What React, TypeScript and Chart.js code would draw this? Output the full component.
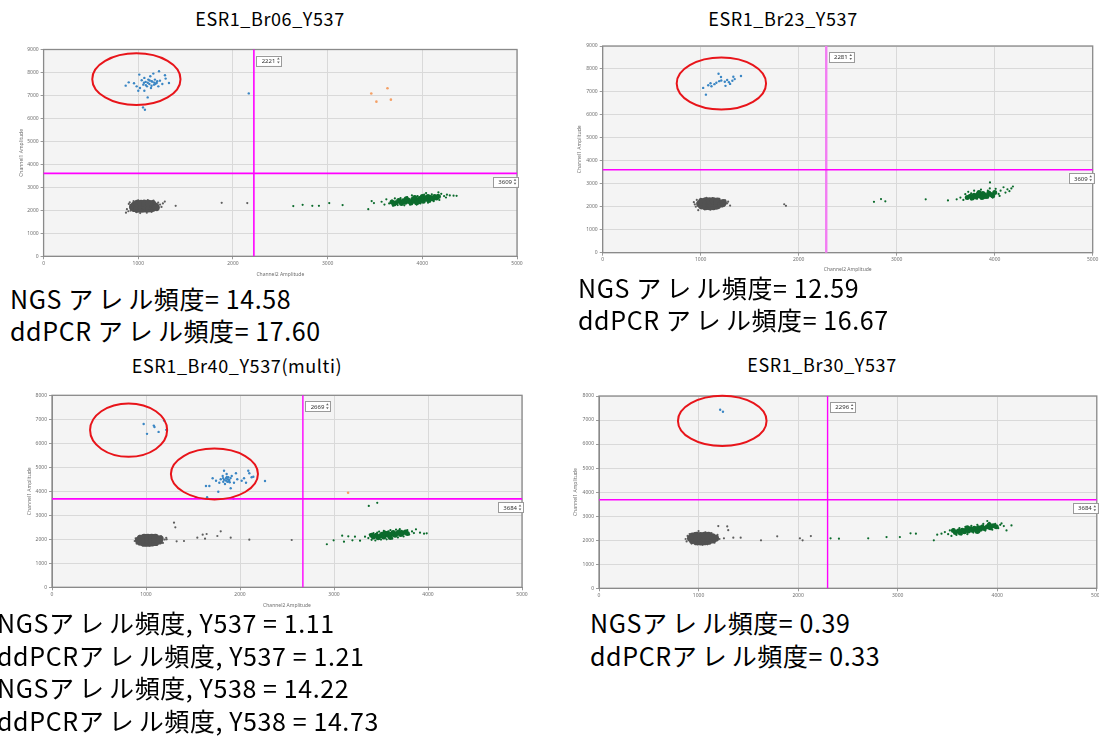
import React, { useEffect, useRef } from "react";
import { Chart, registerables } from "chart.js";

Chart.register(...registerables);

type P = [number, number];

// ---------- tick labels ----------
const xTickValues = [0, 1000, 2000, 3000, 4000, 5000];
const yTickValuesTop = [0, 1000, 2000, 3000, 4000, 5000, 6000, 7000, 8000, 9000];
const yTickValuesBottom = [0, 1000, 2000, 3000, 4000, 5000, 6000, 7000, 8000];

// ---------- panel 1 : ESR1_Br06_Y537 ----------
const p1Title = "ESR1_Br06_Y537";
const p1ThreshX = 2221;
const p1ThreshY = 3609;
const p1Circles: [number, number, number, number][] = [[980, 7710, 466, 1124]];
const p1Text = ["NGS アレル頻度= 14.58", "ddPCR アレル頻度= 17.60"];
const p1Blue: P[] = [
  [867, 7427], [899, 7571], [955, 7528], [983, 7397], [1011, 7907], [1018, 7326], [1036, 7659], [1053, 7470],
  [1064, 7763], [1078, 7589], [1092, 7397], [1106, 7689], [1117, 7500], [1127, 7834], [1134, 7326], [1141, 7615],
  [1159, 7951], [1166, 7470], [1176, 7689], [1194, 7543], [1212, 7397], [1219, 8052], [1229, 7645], [1254, 7500],
  [1282, 7878], [1289, 7733], [1324, 7543], [1099, 6916], [1000, 7208], [1064, 7208], [1150, 7600], [1100, 7550],
  [1120, 7650], [1080, 7450], [1180, 7500], [1200, 7620], [1060, 7550], [1140, 7420], [1170, 7560], [1050, 6480],
  [1070, 6380], [2167, 7090],
];
const p1Orange: P[] = [[3461, 7088], [3515, 6730], [3632, 7316], [3668, 6817]];
const p1GrayCore: P[] = [
  [940, 2150], [960, 2080], [960, 2230], [990, 2050], [990, 2180], [990, 2300], [1030, 2050], [1030, 2170],
  [1030, 2300], [1070, 2060], [1070, 2180], [1070, 2300], [1110, 2060], [1110, 2180], [1110, 2300], [1150, 2090],
  [1150, 2200], [1150, 2290], [1180, 2180], [1190, 2120],
];
const p1Gray: P[] = [
  [880, 2050], [895, 1960], [900, 2280], [910, 2350], [920, 1990], [950, 2400], [980, 1920], [1000, 2440],
  [1020, 1880], [1050, 1950], [1060, 2420], [1090, 1900], [1100, 2450], [1140, 1930], [1160, 2420], [1200, 2010],
  [1210, 2340], [1230, 2250], [1245, 2150], [1260, 2300], [1280, 2380], [870, 1900], [1395, 2197], [1881, 2328],
  [2151, 2315],
];
const p1GreenCore: P[] = [
  [3720, 2330], [3760, 2380], [3780, 2300], [3800, 2420], [3820, 2350], [3850, 2450], [3860, 2380], [3880, 2320],
  [3900, 2480], [3910, 2400], [3940, 2440], [3960, 2370], [3970, 2520], [3990, 2460], [4010, 2400], [4030, 2550],
  [4050, 2480], [4070, 2430], [4090, 2560], [4110, 2510], [4130, 2600], [4150, 2540], [3830, 2500], [3750, 2430],
  [3920, 2560], [4000, 2600], [3680, 2360], [3700, 2280], [3940, 2330], [4060, 2600], [4170, 2600],
];
const p1Green: P[] = [
  [2637, 2184], [2736, 2241], [2838, 2197], [2908, 2197], [3017, 2315], [3158, 2228], [3429, 2053], [3465, 2402],
  [3489, 2315], [3570, 2373], [3600, 2250], [3620, 2480], [3650, 2300], [3680, 2420], [3690, 2200], [3710, 2520],
  [3740, 2230], [3770, 2530], [3810, 2220], [3840, 2580], [3870, 2250], [3950, 2620], [3980, 2300], [4020, 2680],
  [4060, 2330], [4100, 2700], [4160, 2660], [4180, 2450], [4200, 2720], [4230, 2620], [4260, 2680], [4290, 2650],
  [4330, 2640], [4362, 2634], [4170, 2780], [4040, 2750], [3890, 2650], [3940, 2250], [4120, 2400], [4250, 2560],
];

// ---------- panel 2 : ESR1_Br23_Y537 ----------
const p2Title = "ESR1_Br23_Y537";
const p2ThreshX = 2281;
const p2ThreshY = 3609;
const p2Circles: [number, number, number, number][] = [[1211, 7368, 456, 1132]];
const p2Text = ["NGS アレル頻度= 12.59", "ddPCR アレル頻度= 16.67"];
const p2Blue: P[] = [
  [1025, 7176], [1053, 6882], [1077, 7294], [1140, 7338], [1182, 7794], [1189, 7470], [1207, 7647], [1246, 7441],
  [1253, 7265], [1288, 7426], [1323, 7485], [1333, 7662], [1347, 7559], [1411, 7691], [1110, 7250], [1160, 7400],
  [1210, 7500], [1300, 7350], [1100, 7380], [1270, 7520],
];
const p2Orange: P[] = [];
const p2GrayCore: P[] = [
  [990, 2130], [1010, 2040], [1010, 2220], [1050, 2000], [1050, 2130], [1050, 2260], [1090, 2000], [1090, 2130],
  [1090, 2260], [1130, 2010], [1130, 2140], [1130, 2260], [1170, 2040], [1170, 2160], [1170, 2250], [1210, 2120],
  [1230, 2180],
];
const p2Gray: P[] = [
  [940, 2100], [950, 2000], [960, 2300], [975, 1850], [1000, 2350], [1040, 1890], [1060, 2390], [1100, 1870],
  [1120, 2380], [1160, 1920], [1190, 2350], [1240, 2040], [1250, 2280], [1270, 2150], [1280, 2220], [1300, 2050],
  [930, 2200], [1852, 2110], [1870, 2040],
];
const p2GreenCore: P[] = [
  [3720, 2400], [3750, 2460], [3770, 2380], [3790, 2500], [3810, 2430], [3830, 2550], [3850, 2470], [3870, 2400],
  [3880, 2580], [3900, 2510], [3920, 2450], [3940, 2600], [3960, 2530], [3980, 2480], [4000, 2620], [3840, 2620],
];
const p2Green: P[] = [
  [2768, 2217], [2840, 2335], [2884, 2235], [3296, 2322], [3523, 2278], [3612, 2322], [3650, 2400], [3680, 2300],
  [3700, 2550], [3730, 2650], [3760, 2320], [3790, 2700], [3820, 2350], [3860, 2750], [3900, 2380], [3930, 2700],
  [3952, 3061], [3980, 2400], [4010, 2780], [4040, 2560], [4060, 2700], [4090, 2850], [4110, 2620], [4130, 2760],
  [4150, 2680], [4186, 2882], [4170, 2800], [4050, 2470], [3760, 2580], [3950, 2800],
];

// ---------- panel 3 : ESR1_Br40_Y537(multi) ----------
const p3Title = "ESR1_Br40_Y537(multi)";
const p3ThreshX = 2669;
const p3ThreshY = 3684;
const p3Circles: [number, number, number, number][] = [[815, 6550, 410, 1111], [1728, 4720, 463, 1060]];
const p3Text = [
  "NGSアレル頻度, Y537 = 1.11",
  "ddPCRアレル頻度, Y537 = 1.21",
  "NGSアレル頻度, Y538 = 14.22",
  "ddPCRアレル頻度, Y538 = 14.73",
];
const p3Blue: P[] = [
  [975, 6807], [1011, 6393], [1083, 6738], [1090, 6680], [1134, 6476], [1192, 6945], [1215, 6560],
  [1638, 4221], [1674, 4221], [1709, 4542], [1745, 4442], [1769, 3983], [1780, 4358], [1795, 4500], [1816, 4638],
  [1822, 4400], [1830, 4858], [1840, 4304], [1851, 4542], [1858, 4721], [1865, 4400], [1876, 4583], [1886, 4471],
  [1901, 4125], [1912, 4638], [1936, 4358], [1957, 4750], [1971, 4500], [2018, 4442], [2043, 4542], [2064, 4358],
  [2088, 4858], [2099, 4750], [2124, 4583], [2142, 4608], [2266, 4429], [1850, 4450], [1870, 4500], [1830, 4480],
  [1880, 4420], [1900, 4550], [1860, 4600], [1820, 4550], [1890, 4380], [1530, 3730], [1650, 3750], [1930, 3700],
];
const p3Orange: P[] = [[3150, 3940]];
const p3GrayCore: P[] = [
  [920, 1960], [940, 1880], [940, 2040], [980, 1840], [980, 1960], [980, 2080], [1020, 1840], [1020, 1960],
  [1020, 2080], [1060, 1850], [1060, 1970], [1060, 2080], [1100, 1870], [1100, 1990], [1100, 2080], [1140, 1930],
  [1150, 2020],
];
const p3Gray: P[] = [
  [880, 1930], [890, 2040], [900, 1820], [930, 2140], [960, 1760], [1000, 2160], [1040, 1740], [1080, 2170],
  [1120, 1780], [1160, 2120], [1180, 1850], [1200, 1990], [1215, 2060], [1298, 2692], [1312, 2500], [1220, 2000],
  [1326, 1917], [1404, 1929], [1546, 2067], [1603, 2192], [1645, 2221], [1628, 2025], [1759, 2138], [1795, 2333],
  [1901, 2067], [2099, 1983], [2550, 1971],
];
const p3GreenCore: P[] = [
  [3420, 2100], [3450, 2170], [3470, 2060], [3490, 2140], [3510, 2210], [3530, 2100], [3550, 2180], [3570, 2250],
  [3590, 2140], [3610, 2210], [3630, 2280], [3650, 2170], [3670, 2240], [3690, 2300], [3710, 2200], [3730, 2260],
  [3760, 2300], [3540, 2260], [3600, 2080], [3400, 2170], [3780, 2240],
];
const p3Green: P[] = [
  [2924, 1793], [2996, 1959], [3087, 2152], [3106, 1900], [3152, 2124], [3196, 1959], [3223, 2108], [3277, 1942],
  [3330, 2108], [3370, 3390], [3460, 3520], [3365, 2050], [3380, 2200], [3400, 1980], [3420, 2260], [3440, 1950],
  [3480, 2320], [3500, 1990], [3530, 2350], [3560, 2000], [3600, 2380], [3620, 2030], [3660, 2400], [3680, 2080],
  [3720, 2350], [3740, 2120], [3780, 2380], [3800, 2200], [3830, 2330], [3850, 2260], [3872, 2417], [3915, 2275],
  [3958, 2234], [3986, 2250], [3700, 2420], [3580, 2330], [3460, 2280],
];

// ---------- panel 4 : ESR1_Br30_Y537 ----------
const p4Title = "ESR1_Br30_Y537";
const p4ThreshX = 2296;
const p4ThreshY = 3684;
const p4Circles: [number, number, number, number][] = [[1238, 6965, 445, 1049]];
const p4Text = ["NGSアレル頻度= 0.39", "ddPCRアレル頻度= 0.33"];
const p4Blue: P[] = [[1217, 7430], [1245, 7347]];
const p4Orange: P[] = [];
const p4GrayCore: P[] = [
  [920, 2080], [940, 1990], [940, 2170], [980, 1940], [980, 2070], [980, 2200], [1020, 1930], [1020, 2060],
  [1020, 2190], [1060, 1940], [1060, 2070], [1060, 2200], [1100, 1960], [1100, 2080], [1100, 2200], [1140, 2010],
  [1140, 2140], [1170, 2080],
];
const p4Gray: P[] = [
  [870, 2050], [880, 1950], [890, 2180], [910, 2260], [930, 1860], [960, 2300], [990, 1830], [1000, 2380],
  [1040, 1810], [1070, 2330], [1090, 1830], [1130, 2300], [1160, 1900], [1190, 2220], [1210, 2050], [1198, 2587],
  [1288, 2574], [1298, 2420], [1255, 2079], [1349, 2107], [1423, 2107], [1627, 1996], [1790, 2161], [2018, 2079],
  [2045, 1996], [2128, 2174],
];
const p4GreenCore: P[] = [
  [3580, 2320], [3610, 2380], [3630, 2300], [3650, 2420], [3670, 2350], [3690, 2450], [3710, 2380], [3730, 2480],
  [3750, 2410], [3770, 2500], [3790, 2430], [3810, 2520], [3830, 2460], [3850, 2550], [3870, 2490], [3900, 2560],
  [3930, 2520], [3960, 2600], [3990, 2560], [3700, 2520], [3800, 2360], [3560, 2400], [3920, 2640],
];
const p4Green: P[] = [
  [2326, 2079], [2410, 2066], [2704, 2079], [2888, 2132], [3022, 2132], [3129, 2285], [3183, 2273], [3363, 1996],
  [3397, 2231], [3440, 2273], [3474, 2339], [3507, 2250], [3524, 2409], [3540, 2180], [3560, 2450], [3590, 2220],
  [3620, 2500], [3640, 2240], [3680, 2560], [3700, 2250], [3740, 2600], [3760, 2320], [3800, 2640], [3820, 2350],
  [3860, 2680], [3880, 2400], [3920, 2720], [3950, 2440], [3980, 2680], [4010, 2500], [4030, 2640], [4043, 2700],
  [4066, 2587], [4093, 2409], [4143, 2616], [3900, 2800], [3850, 2600], [3620, 2350],
];

// ---------- styling / layout ----------
const COLORS = {
  gray: "#525252",
  grayEdge: "#5e5e5e",
  green: "#0b6b2c",
  blue: "#3a86c4",
  orange: "#f4a066",
  magenta: "#ff00ff",
  red: "#e8141a",
  plotBg: "#f4f4f4",
  grid: "#d9d9d9",
  border: "#8a8a8a",
  tick: "#6f6f6f",
};
const FONT = "'Noto Sans CJK JP', 'Noto Sans', sans-serif";

type Series = { blue: P[]; orange: P[]; grayCore: P[]; gray: P[]; greenCore: P[]; green: P[] };
type PanelCfg = {
  canvas: { left: number; top: number; width: number; height: number };
  plot: { left: number; top: number; right: number; bottom: number };
  yTicks: number[];
  threshX: number;
  threshY: number;
  circles: [number, number, number, number][];
  series: Series;
  yTitlePad: number;
  xTitlePad: number;
  showXTitle: boolean;
  vLineColor: string;
  vLineWidth: number;
};

const panels: PanelCfg[] = [
  {
    canvas: { left: 16, top: 40, width: 520, height: 240 },
    plot: { left: 43.6, top: 49.5, right: 517, bottom: 256.3 },
    yTicks: yTickValuesTop,
    threshX: p1ThreshX, threshY: p1ThreshY, circles: p1Circles,
    series: { blue: p1Blue, orange: p1Orange, grayCore: p1GrayCore, gray: p1Gray, greenCore: p1GreenCore, green: p1Green },
    yTitlePad: 3, xTitlePad: 2, showXTitle: true, vLineColor: "#ff00ff", vLineWidth: 1.6,
  },
  {
    canvas: { left: 574, top: 40, width: 545, height: 240 },
    plot: { left: 602.7, top: 46, right: 1092.7, bottom: 252.7 },
    yTicks: yTickValuesTop,
    threshX: p2ThreshX, threshY: p2ThreshY, circles: p2Circles,
    series: { blue: p2Blue, orange: p2Orange, grayCore: p2GrayCore, gray: p2Gray, greenCore: p2GreenCore, green: p2Green },
    yTitlePad: 3, xTitlePad: 7, showXTitle: true, vLineColor: "#f27cf2", vLineWidth: 2.4,
  },
  {
    canvas: { left: 22, top: 386, width: 518, height: 224 },
    plot: { left: 52, top: 395.3, right: 522, bottom: 587.3 },
    yTicks: yTickValuesBottom,
    threshX: p3ThreshX, threshY: p3ThreshY, circles: p3Circles,
    series: { blue: p3Blue, orange: p3Orange, grayCore: p3GrayCore, gray: p3Gray, greenCore: p3GreenCore, green: p3Green },
    yTitlePad: 5, xTitlePad: 1, showXTitle: true, vLineColor: "#ff00ff", vLineWidth: 1.4,
  },
  {
    canvas: { left: 570, top: 386, width: 545, height: 218 },
    plot: { left: 599, top: 396, right: 1096.8, bottom: 588.3 },
    yTicks: yTickValuesBottom,
    threshX: p4ThreshX, threshY: p4ThreshY, circles: p4Circles,
    series: { blue: p4Blue, orange: p4Orange, grayCore: p4GrayCore, gray: p4Gray, greenCore: p4GreenCore, green: p4Green },
    yTitlePad: 3, xTitlePad: 1, showXTitle: false, vLineColor: "#ff00ff", vLineWidth: 1.4,
  },
];

const toXY = (arr: P[]) => arr.map(([x, y]) => ({ x, y }));

function drawSpinBox(ctx: CanvasRenderingContext2D, x: number, y: number, w: number, h: number, label: string) {
  ctx.save();
  ctx.fillStyle = "#ffffff";
  ctx.fillRect(x, y, w, h);
  ctx.strokeStyle = "#9a9a9a";
  ctx.lineWidth = 1;
  ctx.strokeRect(Math.round(x) + 0.5, Math.round(y) + 0.5, w, h);
  ctx.fillStyle = "#333";
  ctx.font = "6px 'Noto Sans', sans-serif";
  ctx.textAlign = "right";
  ctx.textBaseline = "middle";
  ctx.fillText(label, x + w - 6, y + h / 2 + 0.5);
  const ax = x + w - 3;
  ctx.fillStyle = "#666";
  ctx.beginPath();
  ctx.moveTo(ax - 1.3, y + h / 2 - 1);
  ctx.lineTo(ax + 1.3, y + h / 2 - 1);
  ctx.lineTo(ax, y + h / 2 - 3);
  ctx.closePath();
  ctx.fill();
  ctx.beginPath();
  ctx.moveTo(ax - 1.3, y + h / 2 + 1);
  ctx.lineTo(ax + 1.3, y + h / 2 + 1);
  ctx.lineTo(ax, y + h / 2 + 3);
  ctx.closePath();
  ctx.fill();
  ctx.restore();
}

const decorPlugin = {
  id: "ddpcrDecor",
  beforeDraw(chart: any) {
    const { ctx, chartArea } = chart;
    ctx.save();
    ctx.fillStyle = COLORS.plotBg;
    ctx.fillRect(chartArea.left, chartArea.top, chartArea.right - chartArea.left, chartArea.bottom - chartArea.top);
    ctx.restore();
  },
  afterDatasetsDraw(chart: any, _args: any, opts: any) {
    const { ctx, chartArea } = chart;
    const xs = chart.scales.x;
    const ys = chart.scales.y;
    ctx.save();
    ctx.strokeStyle = COLORS.border;
    ctx.lineWidth = 1.3;
    ctx.strokeRect(chartArea.left, chartArea.top, chartArea.right - chartArea.left, chartArea.bottom - chartArea.top);
    const vx = xs.getPixelForValue(opts.threshX);
    const hy = ys.getPixelForValue(opts.threshY);
    ctx.strokeStyle = opts.vLineColor;
    ctx.lineWidth = opts.vLineWidth;
    ctx.beginPath();
    ctx.moveTo(vx, chartArea.top);
    ctx.lineTo(vx, chartArea.bottom);
    ctx.stroke();
    ctx.strokeStyle = COLORS.magenta;
    ctx.lineWidth = 1.6;
    ctx.beginPath();
    ctx.moveTo(chartArea.left, hy);
    ctx.lineTo(chartArea.right, hy);
    ctx.stroke();
    ctx.strokeStyle = COLORS.red;
    ctx.lineWidth = 2;
    for (const c of opts.circles as [number, number, number, number][]) {
      const cx = xs.getPixelForValue(c[0]);
      const cy = ys.getPixelForValue(c[1]);
      const rx = Math.abs(xs.getPixelForValue(c[0] + c[2]) - cx);
      const ry = Math.abs(ys.getPixelForValue(c[1] + c[3]) - cy);
      ctx.beginPath();
      ctx.ellipse(cx, cy, rx, ry, 0, 0, Math.PI * 2);
      ctx.stroke();
    }
    ctx.restore();
    drawSpinBox(ctx, vx + 2.5, chartArea.top + 6, 25, 10, String(opts.threshX));
    drawSpinBox(ctx, chartArea.right - 24, hy + 3.5, 25, 10, String(opts.threshY));
  },
};

function PlotPanel({ cfg }: { cfg: PanelCfg }) {
  const ref = useRef<HTMLCanvasElement>(null);
  useEffect(() => {
    const { canvas, plot } = cfg;
    const s = cfg.series;
    const yMax = cfg.yTicks[cfg.yTicks.length - 1];
    const tickFont = { family: "'Noto Sans', sans-serif", size: 5 };
    const chart = new Chart(ref.current as HTMLCanvasElement, {
      type: "scatter",
      data: {
        datasets: [
          { label: "gray core", data: toXY(s.grayCore), backgroundColor: COLORS.gray, pointRadius: 3.6, pointBorderWidth: 0 },
          { label: "gray", data: toXY(s.gray), backgroundColor: COLORS.grayEdge, pointRadius: 1.1, pointBorderWidth: 0 },
          { label: "green core", data: toXY(s.greenCore), backgroundColor: COLORS.green, pointRadius: 2.5, pointBorderWidth: 0 },
          { label: "green", data: toXY(s.green), backgroundColor: COLORS.green, pointRadius: 1.1, pointBorderWidth: 0 },
          { label: "blue", data: toXY(s.blue), backgroundColor: COLORS.blue, pointRadius: 1.2, pointBorderWidth: 0 },
          { label: "orange", data: toXY(s.orange), backgroundColor: COLORS.orange, pointRadius: 1.3, pointBorderWidth: 0 },
        ],
      } as any,
      options: {
        animation: false,
        responsive: false,
        devicePixelRatio: 1,
        events: [],
        layout: {
          padding: {
            left: 0,
            bottom: 0,
            top: plot.top - canvas.top,
            right: canvas.left + canvas.width - plot.right,
          },
        },
        plugins: {
          legend: { display: false },
          tooltip: { enabled: false },
          ddpcrDecor: {
            threshX: cfg.threshX,
            threshY: cfg.threshY,
            circles: cfg.circles,
            vLineColor: cfg.vLineColor,
            vLineWidth: cfg.vLineWidth,
          },
        } as any,
        scales: {
          x: {
            type: "linear",
            min: 0,
            max: 5000,
            afterBuildTicks: (axis: any) => {
              axis.ticks = xTickValues.map((v) => ({ value: v }));
            },
            afterFit: (axis: any) => {
              axis.height = canvas.top + canvas.height - plot.bottom;
            },
            ticks: {
              font: tickFont,
              color: COLORS.tick,
              padding: 1,
              maxRotation: 0,
              autoSkip: false,
              callback: (v: any) => String(v),
            },
            grid: { color: COLORS.grid, lineWidth: 1, tickLength: 3, tickColor: "#9a9a9a" },
            border: { color: COLORS.border },
            title: {
              display: cfg.showXTitle,
              text: "Channel2 Amplitude",
              font: tickFont,
              color: COLORS.tick,
              padding: { top: 0, bottom: cfg.xTitlePad },
            },
          },
          y: {
            type: "linear",
            min: 0,
            max: yMax,
            afterBuildTicks: (axis: any) => {
              axis.ticks = cfg.yTicks.map((v) => ({ value: v }));
            },
            afterFit: (axis: any) => {
              axis.width = plot.left - canvas.left;
            },
            ticks: {
              font: tickFont,
              color: COLORS.tick,
              padding: 2,
              autoSkip: false,
              callback: (v: any) => String(v),
            },
            grid: { color: COLORS.grid, lineWidth: 1, tickLength: 3, tickColor: "#9a9a9a" },
            border: { color: COLORS.border },
            title: {
              display: true,
              text: "Channel1 Amplitude",
              font: tickFont,
              color: COLORS.tick,
              padding: { top: cfg.yTitlePad, bottom: 0 },
            },
          },
        },
      } as any,
      plugins: [decorPlugin as any],
    });
    return () => chart.destroy();
  }, [cfg]);
  return (
    <canvas
      ref={ref}
      width={cfg.canvas.width}
      height={cfg.canvas.height}
      style={{
        position: "absolute",
        left: cfg.canvas.left,
        top: cfg.canvas.top,
        width: cfg.canvas.width,
        height: cfg.canvas.height,
      }}
    />
  );
}

function Title({ text, cx, cy }: { text: string; cx: number; cy: number }) {
  return (
    <div
      style={{
        position: "absolute",
        left: cx - 200,
        top: cy - 12,
        width: 400,
        height: 24,
        lineHeight: "24px",
        textAlign: "center",
        fontFamily: FONT,
        fontSize: 18,
        letterSpacing: "0.6px",
        color: "#000",
        whiteSpace: "nowrap",
      }}
    >
      {text}
    </div>
  );
}

// katakana runs get the wider spacing of the original slide font
function SpacedLine({ text }: { text: string }) {
  const parts = text.split(/([\u30A1-\u30FC]+)/);
  return (
    <div>
      {parts.map((seg, i) =>
        /^[\u30A1-\u30FC]+$/.test(seg) ? (
          <span key={i}>
            <span style={{ letterSpacing: "5px" }}>{seg.slice(0, -1)}</span>
            {seg.slice(-1)}
          </span>
        ) : (
          <span key={i}>{seg}</span>
        )
      )}
    </div>
  );
}

function TextBlock({ lines, left, top, lineHeight }: { lines: string[]; left: number; top: number; lineHeight: number }) {
  return (
    <div
      style={{
        position: "absolute",
        left,
        top,
        fontFamily: FONT,
        fontSize: 25,
        letterSpacing: "0.6px",
        lineHeight: `${lineHeight}px`,
        color: "#000",
        whiteSpace: "nowrap",
      }}
    >
      {lines.map((l, i) => (
        <SpacedLine key={i} text={l} />
      ))}
    </div>
  );
}

export default function App() {
  return (
    <div
      style={{
        position: "absolute",
        left: 0,
        top: 0,
        width: 1099,
        height: 737,
        overflow: "hidden",
        background: "#ffffff",
      }}
    >
      {panels.map((p, i) => (
        <PlotPanel key={i} cfg={p} />
      ))}
      <Title text={p1Title} cx={270} cy={18} />
      <Title text={p2Title} cx={783} cy={18} />
      <Title text={p3Title} cx={237} cy={365} />
      <Title text={p4Title} cx={822} cy={364} />
      <TextBlock lines={p1Text} left={10} top={282} lineHeight={32} />
      <TextBlock lines={p2Text} left={578} top={271} lineHeight={32} />
      <TextBlock lines={p3Text} left={-3} top={606} lineHeight={32.7} />
      <TextBlock lines={p4Text} left={590} top={606} lineHeight={32.7} />
    </div>
  );
}
